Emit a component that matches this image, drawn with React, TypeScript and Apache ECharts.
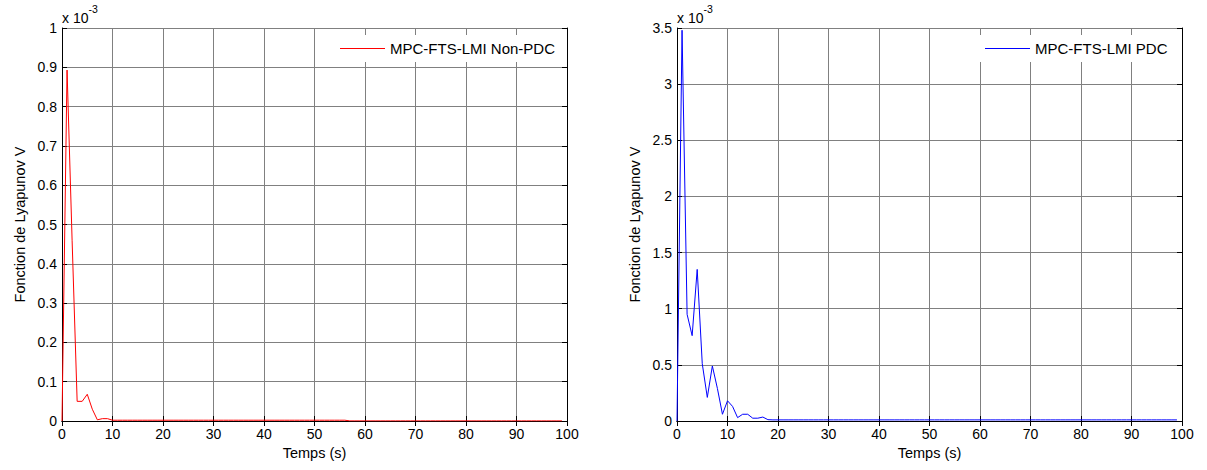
import React, { useEffect, useRef } from "react";
import * as echarts from "echarts";

// Lyapunov function values (unit: 1e-3), sampled every 1 s from t = 0 to 99
const nonPdcValues = [
  0, 0.893, 0.46, 0.05, 0.05, 0.068, 0.03, 0.003, 0.006, 0.006,
  0.002, 0.002, 0.002, 0.002, 0.002, 0.002, 0.002, 0.002, 0.002, 0.002,
  0.002, 0.002, 0.002, 0.002, 0.002, 0.002, 0.002, 0.002, 0.002, 0.002,
  0.002, 0.002, 0.002, 0.002, 0.002, 0.002, 0.002, 0.002, 0.002, 0.002,
  0.002, 0.002, 0.002, 0.002, 0.002, 0.002, 0.002, 0.002, 0.002, 0.002,
  0.002, 0.002, 0.002, 0.002, 0.002, 0.002, 0.002, 0.0003, 0.0003, 0.0003,
  0.0003, 0.0003, 0.0003, 0.0003, 0.0003, 0.0003, 0.0003, 0.0003, 0.0003, 0.0003,
  0.0003, 0.0003, 0.0003, 0.0003, 0.0003, 0.0003, 0.0003, 0.0003, 0.0003, 0.0003,
  0.0003, 0.0003, 0.0003, 0.0003, 0.0003, 0.0003, 0.0003, 0.0003, 0.0003, 0.0003,
  0.0003, 0.0003, 0.0003, 0.0003, 0.0003, 0.0003, 0.0003, 0.0003, 0.0003, 0.0003,
];

const pdcValues = [
  0, 3.48, 0.95, 0.76, 1.35, 0.51, 0.21, 0.49, 0.29, 0.06,
  0.18, 0.13, 0.03, 0.06, 0.06, 0.025, 0.025, 0.035, 0.012, 0.01,
  0.01, 0.01, 0.01, 0.01, 0.01, 0.01, 0.01, 0.01, 0.01, 0.01,
  0.01, 0.01, 0.01, 0.01, 0.01, 0.01, 0.01, 0.01, 0.01, 0.01,
  0.01, 0.01, 0.01, 0.01, 0.01, 0.01, 0.01, 0.01, 0.01, 0.01,
  0.01, 0.01, 0.01, 0.01, 0.01, 0.01, 0.01, 0.01, 0.01, 0.01,
  0.01, 0.01, 0.01, 0.01, 0.01, 0.01, 0.01, 0.01, 0.01, 0.01,
  0.01, 0.01, 0.01, 0.01, 0.01, 0.01, 0.01, 0.01, 0.01, 0.01,
  0.01, 0.01, 0.01, 0.01, 0.01, 0.01, 0.01, 0.01, 0.01, 0.01,
  0.01, 0.01, 0.01, 0.01, 0.01, 0.01, 0.01, 0.01, 0.01, 0.01,
];

const seriesNames = ["MPC-FTS-LMI Non-PDC", "MPC-FTS-LMI PDC"];
const xTitle = "Temps (s)";
const yTitle = "Fonction de Lyapunov V";
const yMaxLeft = 1;
const yStepLeft = 0.1;
const yMaxRight = 3.5;
const yStepRight = 0.5;

const FONT = "'Liberation Sans', Arial, sans-serif";

function toPoints(values: number[]) {
  return values.map((v, i) => [i, v]);
}

export default function App() {
  const ref = useRef<HTMLDivElement>(null);

  useEffect(() => {
    document.body.style.margin = "0";
    if (!ref.current) return;
    const chart = echarts.init(ref.current, null, { renderer: "svg" });

    const gridLeft = { left: 62, top: 28, width: 505, height: 393 };
    const gridRight = { left: 677, top: 28, width: 505, height: 393 };

    const mainX = (gridIndex: number) => ({
      type: "value",
      gridIndex,
      min: 0,
      max: 100,
      interval: 10,
      position: "bottom",
      name: xTitle,
      nameLocation: "middle",
      nameGap: 24,
      nameTextStyle: { fontFamily: FONT, fontSize: 14.5, color: "#000" },
      axisLine: { show: true, lineStyle: { color: "#000", width: 1 } },
      axisTick: { show: true, inside: true, length: 5, lineStyle: { color: "#000" } },
      axisLabel: { fontFamily: FONT, fontSize: 14, color: "#000", margin: 6 },
      splitLine: { show: true, lineStyle: { color: "#808080", width: 1 } },
    });
    const topX = (gridIndex: number) => ({
      type: "value",
      gridIndex,
      min: 0,
      max: 100,
      interval: 10,
      position: "top",
      axisLine: { show: true, lineStyle: { color: "#000", width: 1 } },
      axisTick: { show: true, inside: true, length: 5, lineStyle: { color: "#000" } },
      axisLabel: { show: false },
      splitLine: { show: false },
    });
    const mainY = (gridIndex: number, max: number, step: number) => ({
      type: "value",
      gridIndex,
      min: 0,
      max,
      interval: step,
      position: "left",
      name: yTitle,
      nameLocation: "middle",
      nameGap: 35,
      nameRotate: 90,
      nameTextStyle: { fontFamily: FONT, fontSize: 14.5, color: "#000" },
      axisLine: { show: true, onZero: false, lineStyle: { color: "#000", width: 1 } },
      axisTick: { show: true, inside: true, length: 5, lineStyle: { color: "#000" } },
      axisLabel: {
        fontFamily: FONT,
        fontSize: 14,
        color: "#000",
        margin: 5,
        formatter: (v: number) => String(Math.round(v * 10) / 10),
      },
      splitLine: { show: true, lineStyle: { color: "#808080", width: 1 } },
    });
    const rightY = (gridIndex: number, max: number, step: number) => ({
      type: "value",
      gridIndex,
      min: 0,
      max,
      interval: step,
      position: "right",
      axisLine: { show: true, onZero: false, lineStyle: { color: "#000", width: 1 } },
      axisTick: { show: true, inside: true, length: 5, lineStyle: { color: "#000" } },
      axisLabel: { show: false },
      splitLine: { show: false },
    });

    const legendCommon = {
      top: 35,
      orient: "horizontal",
      itemWidth: 45,
      itemHeight: 15,
      backgroundColor: "#fff",
      padding: [6, 12, 6, 10],
      textStyle: { fontFamily: FONT, fontSize: 15, color: "#000" },
      icon: "path://M0,0 L45,0 L45,1 L0,1 Z",
    };

    const exponentText = (x: number) => ({
      type: "text",
      left: x,
      top: 3,
      style: {
        text: "{b|x 10}{s|-3}",
        rich: {
          b: { fontFamily: FONT, fontSize: 14, fill: "#000", padding: [9, 0, 0, 0] },
          s: { fontFamily: FONT, fontSize: 10.5, fill: "#000", padding: [0, 0, 9, 0] },
        },
      },
    });

    chart.setOption({
      animation: false,
      backgroundColor: "#fff",
      grid: [
        { ...gridLeft, containLabel: false },
        { ...gridRight, containLabel: false },
      ],
      xAxis: [mainX(0), topX(0), mainX(1), topX(1)],
      yAxis: [
        mainY(0, yMaxLeft, yStepLeft),
        rightY(0, yMaxLeft, yStepLeft),
        mainY(1, yMaxRight, yStepRight),
        rightY(1, yMaxRight, yStepRight),
      ],
      legend: [
        { ...legendCommon, left: 330, data: [{ name: seriesNames[0], itemStyle: { color: "#ff0000" } }] },
        { ...legendCommon, left: 975, data: [{ name: seriesNames[1], itemStyle: { color: "#0000ff" } }] },
      ],
      graphic: [exponentText(62), exponentText(677)],
      series: [
        {
          name: seriesNames[0],
          type: "line",
          xAxisIndex: 0,
          yAxisIndex: 0,
          data: toPoints(nonPdcValues),
          symbol: "none",
          lineStyle: { color: "#ff0000", width: 1 },
          itemStyle: { color: "#ff0000" },
          z: 5,
        },
        {
          name: seriesNames[1],
          type: "line",
          xAxisIndex: 2,
          yAxisIndex: 2,
          data: toPoints(pdcValues),
          symbol: "none",
          lineStyle: { color: "#0000ff", width: 1 },
          itemStyle: { color: "#0000ff" },
          z: 5,
        },
      ],
    });

    return () => {
      chart.dispose();
    };
  }, []);

  return <div ref={ref} style={{ width: 1207, height: 470 }} />;
}
